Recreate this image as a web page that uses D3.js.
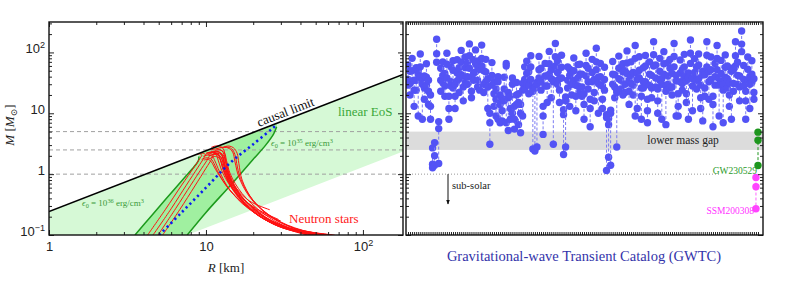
<!DOCTYPE html>
<html>
<head>
<meta charset="utf-8">
<script src="https://cdn.jsdelivr.net/npm/d3@7"></script>
<style>
  body { margin: 0; background: #fff; }
  svg { display: block; font-family: "Liberation Serif", "DejaVu Serif", serif; }
</style>
</head>
<body>
<svg id="chart" width="789" height="293"></svg>
<script>
// ---- data ----
const massTicks = [0.1, 1, 10, 100];
const massTickLabels = [["10", "−1"], ["1", ""], ["10", ""], ["10", "2"]];
const radiusTicks = [1, 10, 100];
const radiusTickLabels = [["1", ""], ["10", ""], ["10", "2"]];
const massGuides = [1, 2.5, 5];

const causalLimit = [[1, 0.242], [180, 43.6]];
const linearEosLower = [[7.6, 0.1], [180, 2.36]];
const eps36Curve = [[3.53, 0.1], [4.5, 0.207], [5.5, 0.378], [6.5, 0.62], [7.5, 0.95], [8.3, 1.28], [8.8, 1.55], [9.0, 1.75], [9.0, 1.95]];
const eps35Curve = [[7.6, 0.1], [10, 0.235], [14.2, 0.64], [20, 1.75], [24, 3.0], [27, 4.6], [28.2, 6.0]];
const maxMassTrack = [[5.04, 0.1], [7, 0.235], [10, 0.6], [14.2, 1.52], [20, 3.1], [27.5, 6.1]];

const quarkStars = [
  [[4.25, 0.1], [5.5, 0.26], [7.0, 0.66], [8.4, 1.3], [9.2, 1.85], [9.4, 2.05], [9.1, 2.15], [8.8, 2.1]],
  [[4.6, 0.1], [6.0, 0.27], [7.5, 0.66], [8.9, 1.3], [9.7, 1.85], [9.9, 2.1], [9.6, 2.2], [9.3, 2.15]],
  [[4.95, 0.1], [6.4, 0.27], [8.0, 0.66], [9.4, 1.25], [10.3, 1.8], [10.5, 2.05], [10.2, 2.15], [9.9, 2.1]],
  [[5.3, 0.1], [6.8, 0.26], [8.5, 0.64], [10.0, 1.25], [10.9, 1.8], [11.1, 2.05], [10.8, 2.15], [10.5, 2.1]]
];
const neutronStars = [
  [[64, 0.1], [38, 0.12], [25, 0.18], [18, 0.32], [14.5, 0.7], [13.3, 1.3], [12.9, 1.9], [12.2, 2.3], [11.2, 2.35], [10.6, 2.2]],
  [[58, 0.1], [34, 0.125], [22, 0.2], [16.5, 0.4], [13.8, 0.85], [12.9, 1.5], [12.4, 1.95], [11.6, 2.15], [10.9, 2.05]],
  [[52, 0.1], [31, 0.13], [21, 0.22], [15.8, 0.45], [13.4, 0.95], [12.6, 1.55], [12.1, 1.85], [11.3, 1.95], [10.7, 1.85]],
  [[47, 0.1], [29, 0.14], [20, 0.24], [15.2, 0.5], [13.1, 1.05], [12.4, 1.7], [12.0, 2.1], [11.1, 2.25], [10.3, 2.15]],
  [[44, 0.1], [27, 0.15], [19, 0.27], [14.2, 0.55], [12.2, 1.1], [11.4, 1.65], [11.0, 1.95], [10.2, 2.05], [9.6, 1.95]],
  [[60, 0.1], [36, 0.13], [25, 0.21], [19, 0.42], [16.2, 0.9], [15.3, 1.6], [14.8, 2.3], [13.8, 2.7], [12.6, 2.75], [11.6, 2.6]],
  [[55, 0.1], [33, 0.135], [23, 0.23], [17, 0.48], [14.3, 1.0], [13.5, 1.7], [13.1, 2.25], [12.2, 2.5], [11.4, 2.45]],
  [[40, 0.11], [26, 0.16], [18, 0.3], [13.6, 0.62], [11.8, 1.15], [11.1, 1.6], [10.7, 1.8], [10.0, 1.85], [9.4, 1.75]],
  [[50, 0.1], [30, 0.14], [21, 0.25], [16, 0.5], [13.8, 1.05], [13.2, 1.8], [12.7, 2.4], [11.7, 2.6], [10.8, 2.5]],
  [[62, 0.1], [38, 0.125], [26, 0.2], [19.5, 0.4], [16.6, 0.85], [15.7, 1.5], [15.3, 2.1], [14.6, 2.6], [13.5, 2.8], [12.4, 2.7]],
  [[45, 0.1], [28, 0.145], [19.5, 0.26], [15, 0.55], [13, 1.1], [12.3, 1.75], [11.8, 2.15], [10.9, 2.3], [10.1, 2.2]],
  [[57, 0.1], [34, 0.13], [22.5, 0.215], [16.8, 0.44], [14.2, 0.95], [13.4, 1.6], [12.9, 2.05], [12.0, 2.3], [11.1, 2.25]],
  [[25.5, 0.26], [19, 0.36], [15.5, 0.6], [13.6, 1.05], [12.9, 1.7], [12.4, 2.2], [11.5, 2.4], [10.7, 2.3]],
  [[30, 0.17], [22, 0.24], [16.5, 0.45], [14, 0.9], [13.1, 1.5], [12.7, 2.0], [11.9, 2.2], [11.1, 2.15]],
  [[29, 0.18], [21, 0.27], [15.4, 0.5], [12.9, 1.0], [12.0, 1.65], [11.6, 2.1], [10.8, 2.3], [10.0, 2.2]],
  [[53, 0.1], [32, 0.135], [22, 0.23], [16.4, 0.47], [14.0, 1.0], [13.3, 1.75], [13.0, 2.5], [12.4, 2.85], [11.5, 2.9], [10.8, 2.75]],
  [[48, 0.1], [29.5, 0.14], [20.5, 0.25], [15.6, 0.52], [13.4, 1.05], [12.7, 1.7], [12.2, 2.0], [11.3, 2.1], [10.5, 2.0]],
  [[66, 0.1], [41, 0.12], [27, 0.19], [20, 0.37], [17, 0.8], [16.2, 1.5], [15.8, 2.2], [15.0, 2.7], [14.0, 2.9], [13.0, 2.8]],
  [[36, 0.12], [24, 0.18], [17, 0.33], [13.2, 0.7], [11.5, 1.2], [10.8, 1.6], [10.3, 1.75], [9.7, 1.7]]
];

// GWTC events: primary, secondary, remnant masses (solar masses)
const gwtcPrimary = [
  36, 31, 50, 24, 35, 44, 58, 30, 26, 39, 23, 13, 1.46, 2.0, 95, 5.6, 35, 42, 28, 64,
  12, 33, 51, 19, 46, 37, 70, 27, 56, 40, 88, 23, 45, 66, 35, 53, 80, 30, 48, 27,
  7.0, 42, 21, 17, 33, 14, 11, 25, 60, 18, 12, 30, 8, 20, 15, 10, 24, 36, 45, 29,
  58, 23, 26, 30, 52, 33, 9, 41, 28, 65, 37, 33, 85, 47, 24, 57, 9.5, 16, 35, 42,
  30, 50, 19, 38, 44, 27, 14, 61, 33, 12, 47, 22, 70, 31, 40, 17, 36, 8.5, 6.5, 10,
  44, 27, 22, 55, 35, 48, 30, 67, 23, 42, 29, 80, 36, 51, 19, 33, 60, 11, 44,
  26, 92, 38, 16, 49, 30, 65, 23, 41, 55, 27, 86, 34, 13, 46, 31, 58, 21, 39, 97,
  28, 47, 35, 62, 18, 43, 26, 90, 33, 52, 14, 40, 80, 29, 45, 24, 57, 37, 20, 49,
  31, 88, 42, 27, 137, 36, 16, 53, 30, 44, 22
];
const gwtcSecondary = [
  29, 20, 34, 13, 24, 9, 40, 8, 17, 29, 14, 8, 1.27, 1.4, 69, 1.5, 23, 32, 19, 38,
  8, 28, 26, 12, 34, 22, 43, 16, 32, 30, 55, 18, 35, 48, 27, 24, 60, 22, 33, 12,
  3.1, 29, 13, 9, 8, 7, 7.5, 16, 7, 5.2, 8, 10, 5.5, 14, 6.5, 4.8, 9, 25, 31, 21,
  36, 2.6, 2.4, 2.8, 38, 24, 4.5, 28, 15, 44, 18, 3.1, 60, 30, 15, 38, 2.1, 2.8, 26, 13,
  20, 35, 11, 28, 23, 19, 8, 41, 25, 6, 33, 16, 52, 10, 29, 12, 24, 1.15, 1.9, 1.4,
  30, 18, 2.8, 37, 25, 20, 22, 45, 14, 31, 20, 9, 12, 38, 8, 26, 33, 7, 29,
  18, 60, 27, 10, 35, 8, 44, 6.5, 30, 26, 20, 58, 9, 9, 33, 24, 40, 15, 8, 66,
  11, 36, 25, 37, 12, 7.5, 19, 58, 17, 36, 6, 29, 52, 9, 33, 7, 39, 26, 13, 8,
  23, 60, 30, 16, 103, 28, 8, 35, 12, 32, 17
];
const gwtcFinal = [
  62, 49, 80, 35, 56, 50, 94, 36, 41, 65, 35, 20, 2.7, 3.3, 165, 7.3, 55, 70, 45, 97,
  19, 58, 73, 30, 76, 56, 108, 41, 84, 67, 138, 39, 76, 110, 59, 74, 132, 50, 77, 37,
  10, 68, 33, 25, 40, 20, 17.5, 39, 66, 22, 19, 38, 13, 32, 21, 14, 31, 58, 72, 48,
  88, 25, 28, 32, 86, 55, 13, 66, 41, 104, 52, 35, 140, 73, 37, 90, 11.4, 18.5, 58, 53,
  48, 81, 29, 63, 64, 44, 21, 97, 55, 17, 77, 36, 117, 39, 66, 28, 57, 9.5, 8.2, 11.2,
  71, 43, 24, 87, 57, 65, 50, 106, 35, 70, 47, 130, 46, 85, 26, 56, 89, 17, 70,
  42, 150, 62, 25, 80, 37, 103, 28, 68, 77, 45, 140, 42, 21, 75, 52, 93, 34, 46, 160,
  37, 79, 57, 94, 29, 49, 43, 150, 48, 84, 19, 66, 130, 37, 74, 30, 91, 60, 32, 55,
  52, 150, 69, 41, 225, 61, 23, 84, 40, 73, 37
];
const gw230529 = [4.9, 3.6, 1.39];
const ssm200308 = [0.88, 0.62, 0.27];
const massGap = [2.5, 5];

// ---- layout ----
const svg = d3.select("#chart");
const left = { x0: 49, x1: 403 }, right = { x0: 406, x1: 763 };
const yTop = 22, yBot = 235;

const y = d3.scaleLog().domain([0.1, Math.pow(10, 2.5)]).range([yBot, yTop]);
const xL = d3.scaleLog().domain([1, 180]).range([left.x0, left.x1]);
const nEvents = gwtcPrimary.length + 2;
const xR = d3.scalePoint().domain(d3.range(nEvents)).range([408, 758]);
// causal limit is M proportional to R
const causalAt = d3.scaleLinear().domain(causalLimit.map(d => d[0])).range(causalLimit.map(d => d[1]));

const defs = svg.append("defs");
defs.append("clipPath").attr("id", "clipL").append("rect")
    .attr("x", left.x0).attr("y", yTop).attr("width", left.x1 - left.x0).attr("height", yBot - yTop);
defs.append("clipPath").attr("id", "clipR").append("rect")
    .attr("x", right.x0).attr("y", yTop).attr("width", right.x1 - right.x0).attr("height", yBot - yTop);
defs.append("marker").attr("id", "arrow").attr("viewBox", "0 0 10 10").attr("refX", 9).attr("refY", 5)
    .attr("markerWidth", 5).attr("markerHeight", 6).attr("orient", "auto")
    .append("path").attr("d", "M0,1 L10,5 L0,9 z").attr("fill", "#111");

// rich text helper: parts are [text, kind] with kind "", "i", "sup", "sub"
function rich(text, parts, fs) {
  let shift = 0;
  parts.forEach(([t, k]) => {
    if (!t) return;
    const target = k === "sup" ? -0.38 * fs : k === "sub" ? 0.25 * fs : 0;
    const ts = text.append("tspan").text(t).attr("dy", target - shift);
    shift = target;
    if (k === "sup" || k === "sub") ts.attr("font-size", fs * 0.7);
    if (k === "i") ts.attr("font-style", "italic");
  });
  return text;
}

const line = (xs) => d3.line().x(d => xs(d[0])).y(d => y(d[1]));

// ---- left panel ----
const gL = svg.append("g").attr("clip-path", "url(#clipL)");

// linear EoS band
const bandPts = [causalLimit[0], causalLimit[1], linearEosLower[1], linearEosLower[0], [1, 0.1]];
gL.append("path").attr("d", line(xL)(bandPts) + "Z").attr("fill", "#d6f9d6");

// dark band between the two constant-density curves
const darkPts = eps36Curve.concat([[9.3, causalAt(9.3)], [28.4, causalAt(28.4)]], eps35Curve.slice().reverse());
gL.append("path").attr("d", line(xL)(darkPts) + "Z").attr("fill", "#a0f0a0");

// guide lines
gL.selectAll(".guide").data(massGuides).enter().append("line")
  .attr("x1", left.x0).attr("x2", left.x1).attr("y1", d => y(d)).attr("y2", d => y(d))
  .attr("stroke", "#a0a0a0").attr("stroke-width", 1).attr("stroke-dasharray", "4,3");

// green curves
const smooth = (xs) => d3.line().x(d => xs(d[0])).y(d => y(d[1])).curve(d3.curveCatmullRom);
[eps36Curve, eps35Curve].forEach(c => {
  gL.append("path").attr("d", smooth(xL)(c)).attr("fill", "none").attr("stroke", "#1c9a1c").attr("stroke-width", 1.5);
});

// red mass-radius curves
gL.selectAll(".ns").data(neutronStars.concat(quarkStars)).enter().append("path")
  .attr("d", smooth(xL)).attr("fill", "none").attr("stroke", "#ff1010").attr("stroke-width", 1);

// blue dotted track
gL.append("path").attr("d", smooth(xL)(maxMassTrack)).attr("fill", "none")
  .attr("stroke", "#0a1ef0").attr("stroke-width", 2.6).attr("stroke-dasharray", "2.2,3.2");

// causal limit
gL.append("path").attr("d", line(xL)(causalLimit)).attr("fill", "none").attr("stroke", "#000").attr("stroke-width", 1.5);

// axes of left panel
const minorMass = [0.2, 0.3, 0.4, 0.5, 0.6, 0.7, 0.8, 0.9, 2, 3, 4, 5, 6, 7, 8, 9, 20, 30, 40, 50, 60, 70, 80, 90, 200, 300];
const minorRadius = [2, 3, 4, 5, 6, 7, 8, 9, 20, 30, 40, 50, 60, 70, 80, 90];

function yAxes(x0, x1, labels) {
  const gl = svg.append("g").attr("transform", `translate(${x0},0)`)
    .call(d3.axisLeft(y).tickValues(massTicks).tickSize(-5).tickFormat(""));
  svg.append("g").attr("transform", `translate(${x0},0)`)
    .call(d3.axisLeft(y).tickValues(minorMass).tickSize(-3).tickFormat(""));
  svg.append("g").attr("transform", `translate(${x1},0)`)
    .call(d3.axisRight(y).tickValues(massTicks).tickSize(-5).tickFormat(""));
  svg.append("g").attr("transform", `translate(${x1},0)`)
    .call(d3.axisRight(y).tickValues(minorMass).tickSize(-3).tickFormat(""));
  if (labels) {
    gl.selectAll(".tick").each(function (d, i) {
      const lab = massTickLabels[massTicks.indexOf(d)];
      rich(d3.select(this).append("text").attr("x", -4).attr("dy", "0.35em").attr("text-anchor", "end")
        .attr("fill", "#222").attr("font-size", 13), [[lab[0], ""], [lab[1], "sup"]], 13);
    });
  }
}
yAxes(left.x0, left.x1, true);

const xb = svg.append("g").attr("transform", `translate(0,${yBot})`)
  .call(d3.axisBottom(xL).tickValues(radiusTicks).tickSize(-5).tickFormat(""));
svg.append("g").attr("transform", `translate(0,${yBot})`)
  .call(d3.axisBottom(xL).tickValues(minorRadius).tickSize(-3).tickFormat(""));
svg.append("g").attr("transform", `translate(0,${yTop})`)
  .call(d3.axisTop(xL).tickValues(radiusTicks).tickSize(-5).tickFormat(""));
svg.append("g").attr("transform", `translate(0,${yTop})`)
  .call(d3.axisTop(xL).tickValues(minorRadius).tickSize(-3).tickFormat(""));
xb.selectAll(".tick").each(function (d) {
  const lab = radiusTickLabels[radiusTicks.indexOf(d)];
  rich(d3.select(this).append("text").attr("y", 16).attr("text-anchor", "middle")
    .attr("fill", "#222").attr("font-size", 13), [[lab[0], ""], [lab[1], "sup"]], 13);
});

// ---- right panel ----
const gR = svg.append("g").attr("clip-path", "url(#clipR)");
gR.append("rect").attr("x", right.x0).attr("width", right.x1 - right.x0)
  .attr("y", y(massGap[1])).attr("height", y(massGap[0]) - y(massGap[1])).attr("fill", "#dcdcdc");
gR.append("line").attr("x1", right.x0).attr("x2", 719).attr("y1", y(1)).attr("y2", y(1))
  .attr("stroke", "#999").attr("stroke-dasharray", "1,2");

const events = gwtcPrimary.map((m1, i) => ({ i, masses: [gwtcFinal[i], m1, gwtcSecondary[i]], color: "#5353f5", lc: "#7b7bf2" }));
events.push({ i: nEvents - 2, masses: ssm200308, color: "#ff44ff", lc: "#ff66ff" });
events.push({ i: nEvents - 1, masses: gw230529, color: "#1e961e", lc: "#1e961e" });

const ev = gR.selectAll(".ev").data(events).enter().append("g");
ev.append("line")
  .attr("x1", d => xR(d.i)).attr("x2", d => xR(d.i))
  .attr("y1", d => y(d3.max(d.masses))).attr("y2", d => y(d3.min(d.masses)))
  .attr("stroke", d => d.lc).attr("stroke-width", 1).attr("stroke-dasharray", "3,2");
ev.selectAll("circle").data(d => d.masses.map(m => ({ m, i: d.i, color: d.color }))).enter().append("circle")
  .attr("cx", d => xR(d.i)).attr("cy", d => y(d.m)).attr("r", 3.7).attr("fill", d => d.color);

yAxes(right.x0, right.x1, false);
svg.append("g").attr("transform", `translate(0,${yTop})`)
  .call(d3.axisTop(xR).tickSize(-3).tickFormat(""));
svg.append("g").attr("transform", `translate(0,${yBot})`)
  .call(d3.axisBottom(xR).tickSize(-3).tickFormat(""));
svg.selectAll(".domain").remove();
svg.selectAll(".tick line").attr("stroke", "#222");

// frames
[left, right].forEach(p => {
  svg.append("rect").attr("x", p.x0).attr("y", yTop).attr("width", p.x1 - p.x0).attr("height", yBot - yTop)
    .attr("fill", "none").attr("stroke", "#111").attr("stroke-width", 1.4);
});

// ---- annotations ----
const ang = -Math.atan2(y(causalLimit[0][1]) - y(causalLimit[1][1]), xL(causalLimit[1][0]) - xL(causalLimit[0][0])) * 180 / Math.PI;
svg.append("text").attr("transform", `translate(287,116) rotate(${ang})`).attr("text-anchor", "middle")
  .attr("font-size", 13).attr("fill", "#111").text("causal limit");
svg.append("text").attr("x", 338).attr("y", 116).attr("font-size", 13).attr("fill", "#3aa83a").text("linear EoS");
svg.append("text").attr("x", 289).attr("y", 223).attr("font-size", 13).attr("fill", "#ff2020").text("Neutron stars");
rich(svg.append("text").attr("x", 271).attr("y", 146).attr("font-size", 9).attr("fill", "#3a9a3a"),
  [["ϵ", "i"], ["0", "sub"], [" = 10", ""], ["35", "sup"], [" erg/cm", ""], ["3", "sup"]], 9);
rich(svg.append("text").attr("x", 82).attr("y", 206).attr("font-size", 9).attr("fill", "#3a9a3a"),
  [["ϵ", "i"], ["0", "sub"], [" = 10", ""], ["36", "sup"], [" erg/cm", ""], ["3", "sup"]], 9);
rich(svg.append("text").attr("x", 226).attr("y", 272).attr("text-anchor", "middle").attr("font-size", 13).attr("fill", "#222"),
  [["R", "i"], ["  [km]", ""]], 13);
rich(svg.append("text").attr("transform", "translate(14,125) rotate(-90)").attr("text-anchor", "middle").attr("font-size", 13).attr("fill", "#222"),
  [["M", "i"], ["  [", ""], ["M", "i"], ["⊙", "sub"], ["]", ""]], 13);

svg.append("text").attr("x", 683).attr("y", 144).attr("text-anchor", "middle").attr("font-size", 11.5).attr("fill", "#222").text("lower mass gap");
svg.append("text").attr("x", 452).attr("y", 189).attr("font-size", 10.5).attr("fill", "#222").text("sub-solar");
svg.append("line").attr("x1", 448).attr("x2", 448).attr("y1", y(1)).attr("y2", 204)
  .attr("stroke", "#111").attr("stroke-width", 1).attr("marker-end", "url(#arrow)");
svg.append("text").attr("x", 757).attr("y", 174).attr("text-anchor", "end").attr("font-size", 9.5).attr("fill", "#2a9a2a").text("GW230529");
svg.append("text").attr("x", 754).attr("y", 213.5).attr("text-anchor", "end").attr("font-size", 9.5).attr("fill", "#ff33ff").text("SSM200308");
svg.append("text").attr("x", 584).attr("y", 261).attr("text-anchor", "middle").attr("font-size", 14.5).attr("fill", "#3333aa")
  .text("Gravitational-wave Transient Catalog (GWTC)");
</script>
</body>
</html>
